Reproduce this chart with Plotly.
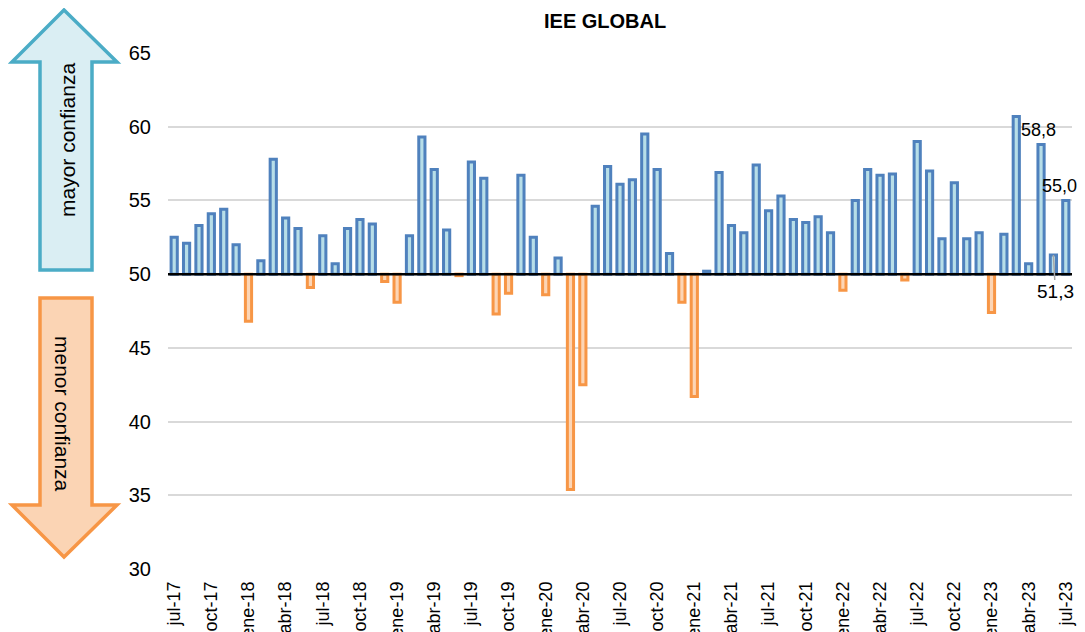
import plotly.graph_objects as go

# ---- data ----
meses = ["ene", "feb", "mar", "abr", "may", "jun", "jul", "ago", "sep", "oct", "nov", "dic"]
start_year = 2017
start_month = 7  # julio
n_periods = 73

valores = [
    # 2017 jul-dic
    52.5, 52.1, 53.3, 54.1, 54.4, 52.0,
    # 2018
    46.8, 50.9, 57.8, 53.8, 53.1, 49.1, 52.6, 50.7, 53.1, 53.7, 53.4, 49.5,
    # 2019
    48.1, 52.6, 59.3, 57.1, 53.0, 49.9, 57.6, 56.5, 47.3, 48.7, 56.7, 52.5,
    # 2020
    48.6, 51.1, 35.4, 42.5, 54.6, 57.3, 56.1, 56.4, 59.5, 57.1, 51.4, 48.1,
    # 2021
    41.7, 50.2, 56.9, 53.3, 52.8, 57.4, 54.3, 55.3, 53.7, 53.5, 53.9, 52.8,
    # 2022
    48.9, 55.0, 57.1, 56.7, 56.8, 49.6, 59.0, 57.0, 52.4, 56.2, 52.4, 52.8,
    # 2023 ene-jul
    47.4, 52.7, 60.7, 50.7, 58.8, 51.3, 55.0,
]
umbral = 50
etiquetas_dato = {"may-23": "58,8", "jun-23": "51,3", "jul-23": "55,0"}
y_ticks = [30, 35, 40, 45, 50, 55, 60, 65]

periodos = []
for i in range(n_periods):
    m = (start_month - 1 + i) % 12
    y = start_year + (start_month - 1 + i) // 12
    periodos.append(f"{meses[m]}-{str(y)[2:]}")
tick_labels = periodos[::3]

# ---- styling ----
BLUE_LINE, BLUE_FILL = "#4F81BD", "#B7DEE8"
ORG_LINE, ORG_FILL = "#F79646", "#FCD5B5"
FONT = "Liberation Sans, Arial, sans-serif"
NARROW = "Liberation Sans Narrow, Arial Narrow, Liberation Sans, Arial, sans-serif"

OFF = 8  # page body margin
W, H = 1085 - OFF, 632 - OFF
L, R, T, B = 160, 13, 45, 63
PW, PH = W - L - R, H - T - B


def px(xs):
    return (xs - OFF - L) / PW


def py(ys):
    return (H - B - (ys - OFF)) / PH


fill = [BLUE_FILL if v >= umbral else ORG_FILL for v in valores]
line = [BLUE_LINE if v >= umbral else ORG_LINE for v in valores]

fig = go.Figure()
fig.add_trace(go.Bar(
    x=periodos,
    y=[v - umbral for v in valores],
    base=umbral,
    marker=dict(color=fill, line=dict(color=line, width=3)),
    customdata=valores,
    hovertemplate="%{x}: %{customdata}<extra></extra>",
))

# threshold line
fig.add_shape(type="line", xref="paper", yref="y", x0=0, x1=1, y0=umbral, y1=umbral,
              line=dict(color="black", width=2.5), layer="above")

# data labels
annotations = []
for cat, txt in etiquetas_dato.items():
    v = valores[periodos.index(cat)]
    if cat == "jun-23":
        annotations.append(dict(x=cat, y=v, xref="x", yref="y", text=txt, showarrow=True,
                                arrowhead=0, arrowcolor="#A6A6A6", arrowwidth=1.5,
                                ax=2, ay=37, standoff=0,
                                font=dict(family=NARROW, size=19, color="black")))
    elif cat == "jul-23":
        annotations.append(dict(x=cat, y=v, xref="x", yref="y", text=txt, showarrow=False,
                                xshift=13, yshift=14, xanchor="right", yanchor="middle",
                                font=dict(family=NARROW, size=18, color="black")))
    else:
        annotations.append(dict(x=cat, y=v, xref="x", yref="y", text=txt, showarrow=False,
                                xshift=-3, yshift=14, xanchor="center", yanchor="middle",
                                font=dict(family=NARROW, size=18, color="black")))

# title
annotations.append(dict(x=px(605), y=1 + T / PH, xref="paper", yref="paper",
                        text="<b>IEE GLOBAL</b>", xanchor="center", yanchor="top",
                        showarrow=False, font=dict(family=FONT, size=20, color="black")))

# side arrows
def arrow_path(points):
    return "M " + " L ".join(f"{px(a):.5f},{py(b):.5f}" for a, b in points) + " Z"


up_pts = [(64, 10), (117, 62), (92, 62), (92, 270), (40, 270), (40, 62), (12, 62)]
down_pts = [(40, 298), (92, 298), (92, 505), (117, 505), (64, 557), (12, 505), (40, 505)]
fig.add_shape(type="path", xref="paper", yref="paper", path=arrow_path(up_pts),
              line=dict(color="#4BACC6", width=3.5), fillcolor="#DAEEF3")
fig.add_shape(type="path", xref="paper", yref="paper", path=arrow_path(down_pts),
              line=dict(color="#F79646", width=3.5), fillcolor="#FBD4B4")

annotations.append(dict(x=px(67), y=py(140), xref="paper", yref="paper", text="mayor confianza",
                        textangle=-90, showarrow=False, xanchor="center", yanchor="middle",
                        font=dict(family=FONT, size=21, color="black")))
annotations.append(dict(x=px(63), y=py(414), xref="paper", yref="paper", text="menor confianza",
                        textangle=90, showarrow=False, xanchor="center", yanchor="middle",
                        font=dict(family=FONT, size=21, color="black")))

fig.update_layout(
    width=W, height=H,
    margin=dict(l=L, r=R, t=T, b=B, autoexpand=False),
    paper_bgcolor="white", plot_bgcolor="white",
    showlegend=False,
    bargap=0.5,
    annotations=annotations,
    font=dict(family=FONT, size=16, color="black"),
)
fig.update_xaxes(
    type="category", categoryorder="array", categoryarray=periodos,
    tickmode="array", tickvals=tick_labels, ticktext=tick_labels,
    tickangle=-90, tickfont=dict(family=NARROW, size=18, color="black"),
    showgrid=False, showline=False, ticks="", automargin=False, ticklabelstandoff=8,
    range=[-0.5, n_periods - 0.5],
)
fig.update_yaxes(
    range=[30, 65], tickvals=y_ticks, showgrid=True, gridcolor="#D9D9D9", gridwidth=1.5,
    zeroline=False, showline=False, ticks="", ticklabelstandoff=16,
    tickfont=dict(family=NARROW, size=20, color="black"), automargin=False,
)

fig.write_html("out.html")
